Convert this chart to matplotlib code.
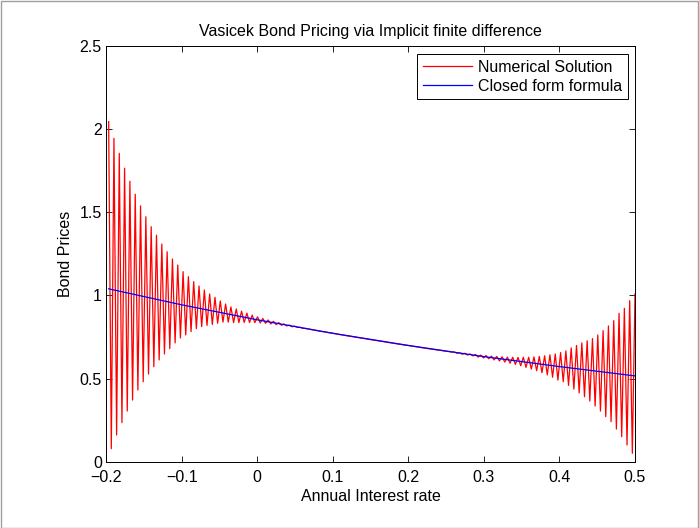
import numpy as np
import matplotlib
matplotlib.use('Agg')
import matplotlib.pyplot as plt
from matplotlib.patches import Rectangle

plt.rcParams['font.family'] = ['Liberation Sans', 'DejaVu Sans']

# ---- data ----
r_start, r_end, n_nodes = -0.1965, 0.5, 199

numerical = [
    2.044, 0.080, 1.944, 0.162, 1.854, 0.236, 1.764, 0.306, 1.686, 0.372,
    1.608, 0.432, 1.538, 0.482, 1.473, 0.528, 1.413, 0.572, 1.362, 0.613,
    1.309, 0.649, 1.263, 0.681, 1.219, 0.715, 1.183, 0.745, 1.143, 0.763,
    1.113, 0.783, 1.083, 0.801, 1.057, 0.813, 1.033, 0.820, 1.009, 0.826,
    0.989, 0.833, 0.967, 0.840, 0.949, 0.840, 0.931, 0.837, 0.919, 0.837,
    0.906, 0.838, 0.894, 0.838, 0.882, 0.837, 0.872, 0.835, 0.862, 0.833,
    0.853, 0.829, 0.845, 0.825, 0.837, 0.821, 0.829, 0.817, 0.822, 0.812,
    0.816, 0.808, 0.809, 0.803, 0.802, 0.799, 0.796, 0.793, 0.790, 0.787,
    0.784, 0.782, 0.779, 0.776, 0.774, 0.771, 0.768, 0.765, 0.763, 0.760,
    0.757, 0.755, 0.752, 0.749, 0.747, 0.744, 0.742, 0.739, 0.736, 0.734,
    0.731, 0.729, 0.726, 0.724, 0.721, 0.718, 0.716, 0.713, 0.711, 0.708,
    0.706, 0.703, 0.701, 0.699, 0.696, 0.694, 0.691, 0.689, 0.686, 0.684,
    0.681, 0.679, 0.677, 0.674, 0.672, 0.670, 0.667, 0.665, 0.663, 0.660,
    0.661, 0.653, 0.656, 0.647, 0.653, 0.642, 0.649, 0.637, 0.646, 0.630,
    0.642, 0.625, 0.639, 0.620, 0.636, 0.613, 0.634, 0.607, 0.632, 0.600,
    0.630, 0.593, 0.629, 0.586, 0.628, 0.578, 0.629, 0.568, 0.629, 0.558,
    0.631, 0.548, 0.634, 0.536, 0.638, 0.523, 0.644, 0.509, 0.649, 0.492,
    0.657, 0.482, 0.667, 0.460, 0.685, 0.438, 0.700, 0.415, 0.715, 0.392,
    0.728, 0.366, 0.741, 0.336, 0.763, 0.306, 0.789, 0.272, 0.817, 0.242,
    0.849, 0.198, 0.893, 0.152, 0.923, 0.102, 0.969, 0.052, 1.009,
]

closed_x = [-0.1965, -0.1, 0.0, 0.1, 0.2, 0.3, 0.4, 0.5]
closed_y = [1.040, 0.944, 0.854, 0.773, 0.700, 0.633, 0.573, 0.517]

x_ticks = [-0.2, -0.1, 0, 0.1, 0.2, 0.3, 0.4, 0.5]
x_labels = ['\u22120.2', '\u22120.1', '0', '0.1', '0.2', '0.3', '0.4', '0.5']
y_ticks = [0, 0.5, 1, 1.5, 2, 2.5]
y_labels = ['0', '0.5', '1', '1.5', '2', '2.5']

title = 'Vasicek Bond Pricing via Implicit finite difference'
xlabel = 'Annual Interest rate'
ylabel = 'Bond Prices'
legend_labels = ['Numerical Solution', 'Closed form formula']

# ---- figure ----
W, H = 699, 528
fig = plt.figure(figsize=(W / 100, H / 100), dpi=100)
fig.patch.set_facecolor('white')
ax = fig.add_axes([106 / W, 1 - 462 / H, (635 - 106) / W, (462 - 45.7) / H])

r = np.linspace(r_start, r_end, n_nodes)
ax.plot(r, numerical, color=(1, 0, 0), lw=0.9, label=legend_labels[0])
ax.plot(closed_x, closed_y, color=(0, 0, 1), lw=0.9, label=legend_labels[1])

ax.set_xlim(-0.2, 0.5)
ax.set_ylim(0, 2.5)
ax.set_xticks(x_ticks)
ax.set_xticklabels(x_labels)
ax.set_yticks(y_ticks)
ax.set_yticklabels(y_labels)

fs = 11.5
ax.tick_params(direction='in', length=4, width=0.6, top=True, right=True,
               labelsize=fs, colors='black')
ax.tick_params(axis='x', pad=5.5)
ax.tick_params(axis='y', pad=3)
for s in ax.spines.values():
    s.set_linewidth(0.7)
    s.set_color('black')

ax.set_title(title, fontsize=fs, pad=7)
ax.set_xlabel(xlabel, fontsize=fs, labelpad=3)
ax.set_ylabel(ylabel, fontsize=fs, labelpad=5)

leg = ax.legend(loc='upper right', bbox_to_anchor=(0.987, 0.980), fontsize=fs,
                frameon=True, fancybox=False, edgecolor='black', framealpha=1,
                handlelength=3.1, handletextpad=0.4, borderpad=0.35,
                labelspacing=0.25, borderaxespad=0)
leg.get_frame().set_linewidth(0.7)

fig.add_artist(Rectangle((0.5 / W, 0.5 / H), 1 - 1.5 / W, 1 - 1.5 / H,
                         transform=fig.transFigure, fill=False,
                         edgecolor='#a0a0a0', lw=1))

fig.savefig('out.png', dpi=100, facecolor='white')
